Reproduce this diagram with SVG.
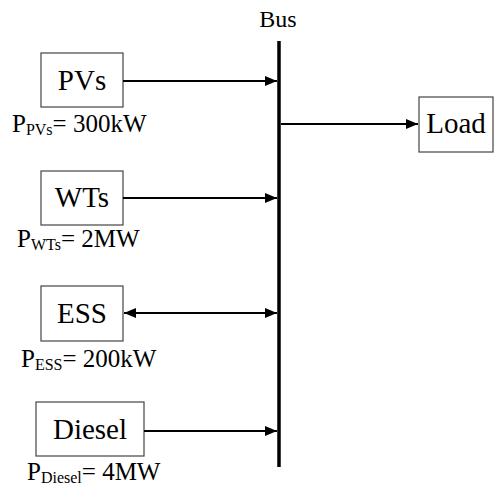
<svg xmlns="http://www.w3.org/2000/svg" width="499" height="490" viewBox="0 0 499 490">
<style>
.box{fill:#fff;stroke:#444;stroke-width:1.2}
.t{font-family:"Liberation Serif","Times New Roman",serif;fill:#000}
.bt{font-size:29px;text-anchor:middle}
.lt{font-size:25px}
.sub{font-size:16px}
.con{stroke:#000;stroke-width:2;fill:none}
</style>
<defs>
<marker id="ah" markerUnits="userSpaceOnUse" markerWidth="13" markerHeight="11" refX="12" refY="5" orient="auto-start-reverse">
<path d="M0,0 L12,5 L0,10 Z" fill="#000"/>
</marker>
</defs>
<g id="bus">
<line x1="279" y1="41" x2="279" y2="467" stroke="#000" stroke-width="3.5"/>
<text class="t" x="278" y="27" text-anchor="middle" font-size="24">Bus</text>
</g>
<g id="pvs">
<rect class="box" x="41" y="53" width="82" height="54"/>
<text class="t bt" x="82" y="90">PVs</text>
<text class="t lt" x="12" y="132">P<tspan class="sub" dy="3">PVs</tspan><tspan dy="-3">= 300kW</tspan></text>
</g>
<g id="wts">
<rect class="box" x="41" y="171" width="82" height="54"/>
<text class="t bt" x="82" y="207">WTs</text>
<text class="t lt" x="17" y="247">P<tspan class="sub" dy="3">WTs</tspan><tspan dy="-3">= 2MW</tspan></text>
</g>
<g id="ess">
<rect class="box" x="41" y="286" width="82" height="55"/>
<text class="t bt" x="82" y="323">ESS</text>
<text class="t lt" x="21" y="367">P<tspan class="sub" dy="3">ESS</tspan><tspan dy="-3">= 200kW</tspan></text>
</g>
<g id="diesel">
<rect class="box" x="36" y="402" width="108" height="54"/>
<text class="t bt" x="90" y="439">Diesel</text>
<text class="t lt" x="27" y="480">P<tspan class="sub" dy="3">Diesel</tspan><tspan dy="-3">= 4MW</tspan></text>
</g>
<g id="load">
<rect class="box" x="419" y="97" width="74" height="55"/>
<text class="t bt" x="456" y="133">Load</text>
</g>
<g id="connectors">
<line class="con" x1="123" y1="81" x2="277" y2="81" marker-end="url(#ah)"/>
<line class="con" x1="123" y1="198" x2="277" y2="198" marker-end="url(#ah)"/>
<line class="con" x1="124" y1="313" x2="277" y2="313" marker-start="url(#ah)" marker-end="url(#ah)"/>
<line class="con" x1="144" y1="431" x2="277" y2="431" marker-end="url(#ah)"/>
<line class="con" x1="281" y1="124" x2="418" y2="124" marker-end="url(#ah)"/>
</g>
</svg>
